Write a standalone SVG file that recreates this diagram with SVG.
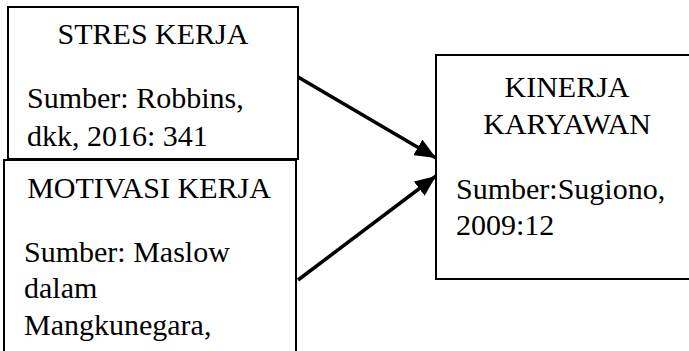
<svg xmlns="http://www.w3.org/2000/svg" width="689" height="351" viewBox="0 0 689 351">
<style>
.box{fill:#fff;stroke:#000;stroke-width:2}
text{font-family:"Liberation Serif","Times New Roman",serif;font-size:30px;fill:#000}
.c{text-anchor:middle}
.conn{stroke:#000;stroke-width:3.5;fill:none}
</style>
<defs>
<marker id="ah" markerUnits="userSpaceOnUse" markerWidth="22" markerHeight="18" refX="21" refY="9" orient="auto">
<path d="M0,0 L21,9 L0,18 Z" fill="#000"/>
</marker>
</defs>
<g id="kinerja">
<rect class="box" x="436" y="55" width="262" height="224"/>
<text class="c" x="567" y="97">KINERJA</text>
<text class="c" x="567" y="134">KARYAWAN</text>
<text x="456" y="199">Sumber:Sugiono,</text>
<text x="456" y="235">2009:12</text>
</g>
<g id="stres">
<rect class="box" x="8" y="7" width="290" height="152"/>
<text class="c" x="153" y="44">STRES KERJA</text>
<text x="27" y="108">Sumber: Robbins,</text>
<text x="27" y="146">dkk, 2016: 341</text>
</g>
<g id="motivasi">
<rect class="box" x="4" y="160" width="292" height="220"/>
<text class="c" x="149" y="198">MOTIVASI KERJA</text>
<text x="24" y="262">Sumber: Maslow</text>
<text x="24" y="298">dalam</text>
<text x="24" y="335">Mangkunegara,</text>
</g>
<g id="connectors">
<line class="conn" x1="298" y1="77" x2="436" y2="158" marker-end="url(#ah)"/>
<line class="conn" x1="298" y1="280" x2="436" y2="176" marker-end="url(#ah)"/>
</g>
</svg>
